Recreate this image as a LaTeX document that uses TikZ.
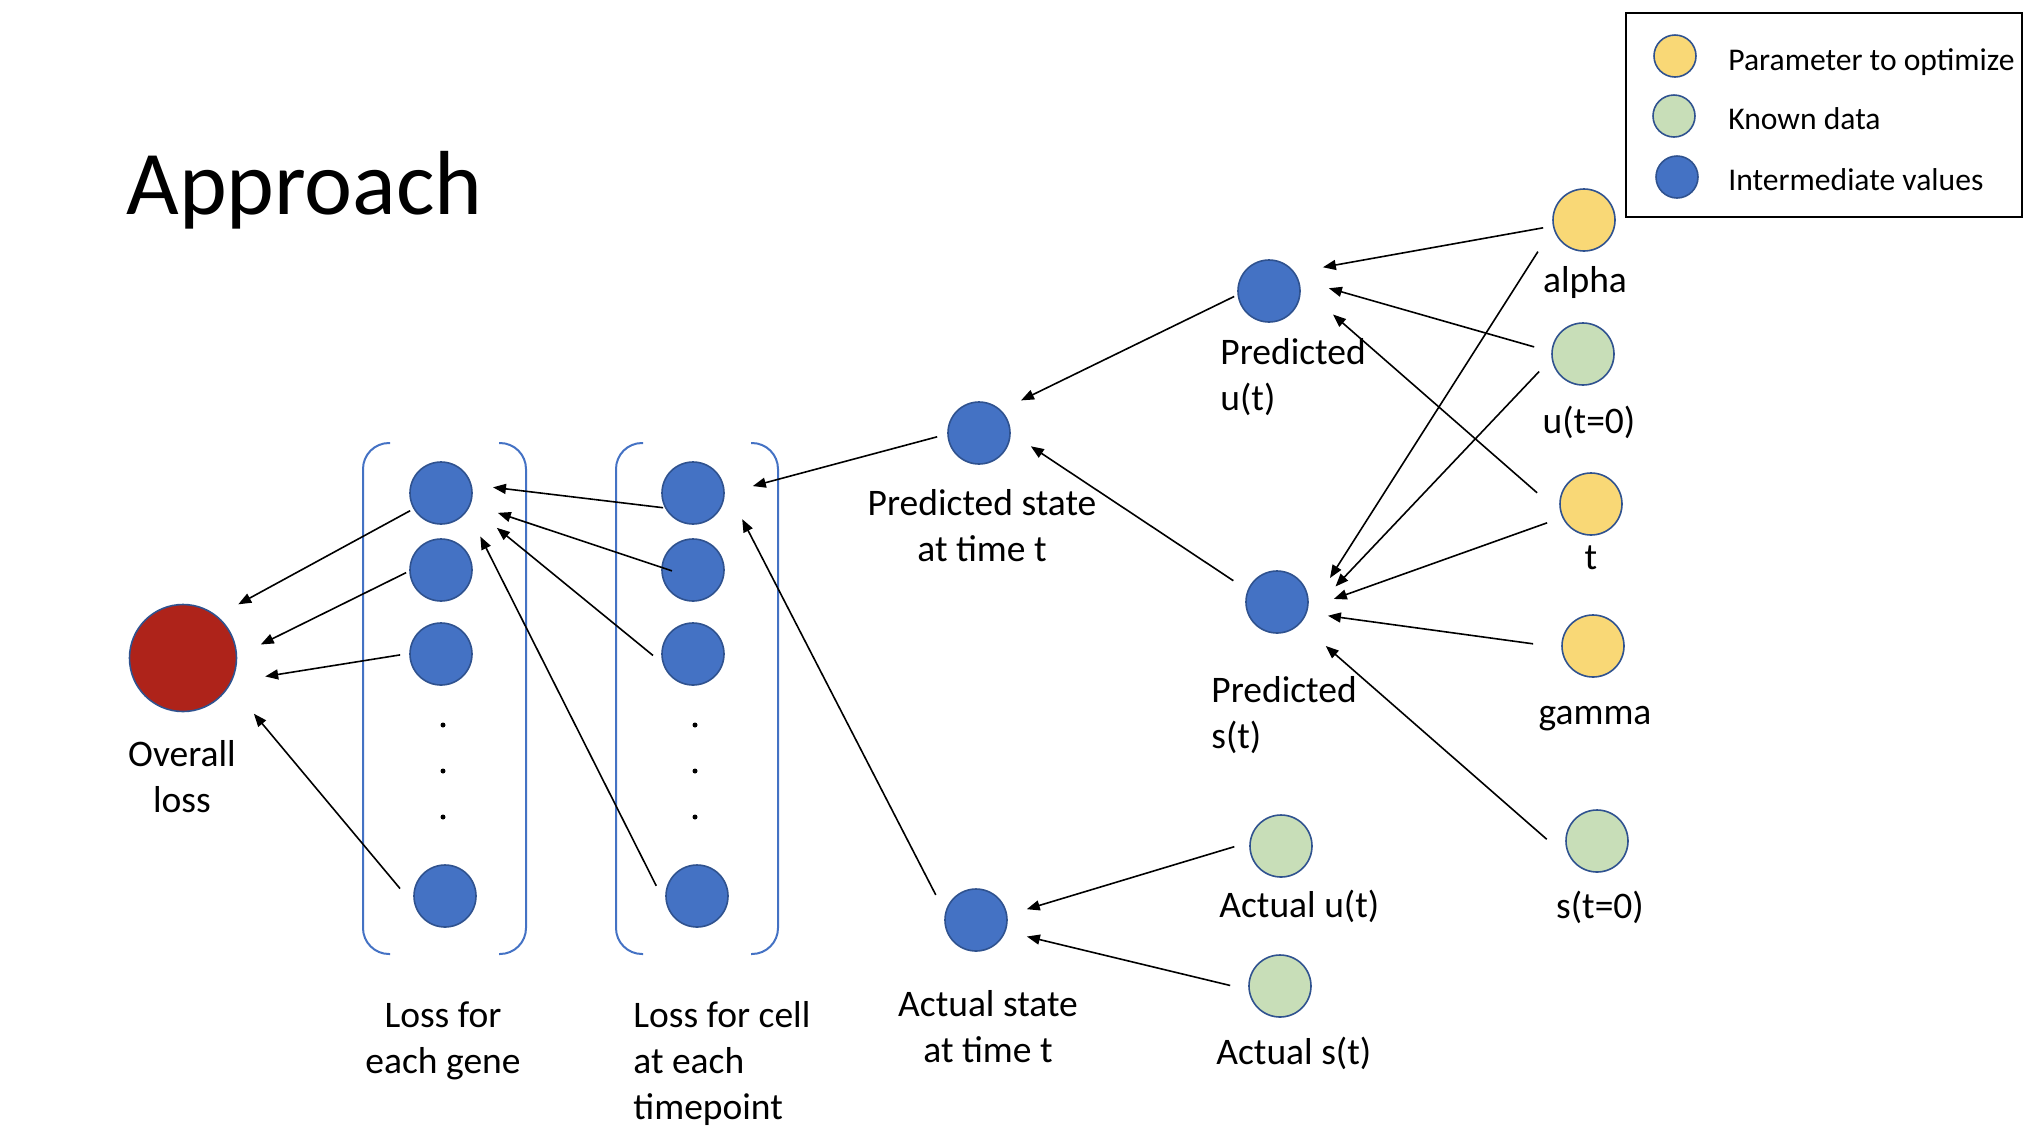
\documentclass[tikz,border=0pt]{standalone}
\usepackage{fontspec}
\setmainfont{Carlito}
\usetikzlibrary{arrows.meta}
\definecolor{interblue}{RGB}{68,114,196}
\definecolor{rimblue}{RGB}{47,82,143}
\definecolor{paramyellow}{RGB}{249,216,118}
\definecolor{datagreen}{RGB}{200,222,184}
\definecolor{lossred}{RGB}{174,35,26}

\begin{document}
\begin{tikzpicture}[x=0.5pt,y=-0.5pt,
    ball/.style={circle,draw=rimblue,line width=0.8pt,inner sep=0pt,minimum size=31pt},
    inter/.style={ball,fill=interblue},
    param/.style={ball,fill=paramyellow},
    known/.style={ball,fill=datagreen},
    keyball/.style={circle,draw=rimblue,line width=0.8pt,inner sep=0pt,minimum size=21pt},
    lab/.style={font=\fontsize{18.75pt}{23pt}\selectfont,inner sep=0pt},
    keytext/.style={font=\fontsize{15.8pt}{18pt}\selectfont,inner sep=0pt,anchor=base west},
    arrow/.style={-{Triangle[length=6.5pt,width=5pt]},line width=0.8pt},
    bracket/.style={draw=interblue,line width=1pt,rounded corners=13pt}]
  \useasboundingbox (0,0) rectangle (2036,1142);

  \node[font=\fontsize{45.5pt}{54pt}\selectfont,anchor=base west,inner sep=0pt] (title) at (126,214) {Approach};

  % legend
  \draw[line width=1pt] (1626,13) rectangle (2022,217);
  \node[keyball,fill=paramyellow] (keyparam) at (1675,56) {};
  \node[keyball,fill=datagreen] (keyknown) at (1674,116) {};
  \node[keyball,fill=interblue] (keyinter) at (1677,177) {};
  \node[keytext] (keyparamtxt) at (1728,70) {Parameter to optimize};
  \node[keytext] (keyknowntxt) at (1728,129) {Known data};
  \node[keytext] (keyintertxt) at (1728,190) {Intermediate values};

  % loss columns
  \node[circle,draw=rimblue,line width=0.8pt,fill=lossred,inner sep=0pt,minimum size=53.5pt] (loss) at (183,658) {};
  \foreach \n/\y in {1/493,2/570,3/654} {
    \node[inter] (g\n) at (441,\y) {};
    \node[inter] (c\n) at (693,\y) {};
  }
  \node[inter] (gN) at (445,896) {};
  \node[inter] (cN) at (697,896) {};
  \foreach \y in {725,771,817} {
    \fill (443,\y) circle (1.25pt);
    \fill (695,\y) circle (1.25pt);
  }
  \foreach \l/\r in {363/526,616/778} {
    \draw[bracket] (\l+27,443) -- (\l,443) -- (\l,954) -- (\l+27,954);
    \draw[bracket] (\r-27,443) -- (\r,443) -- (\r,954) -- (\r-27,954);
  }

  % states
  \node[inter] (predstate) at (979,433) {};
  \node[inter] (actstate) at (976,920) {};
  \node[inter] (predu) at (1269,291) {};
  \node[inter] (preds) at (1277,602) {};
  \node[known] (actu) at (1281,846) {};
  \node[known] (acts) at (1280,986) {};

  % inputs
  \node[param] (alpha) at (1584,220) {};
  \node[known] (uzero) at (1583,354) {};
  \node[param] (time) at (1591,504) {};
  \node[param] (gamma) at (1593,646) {};
  \node[known] (szero) at (1597,841) {};

  % labels (base = last line)
  \node[lab,align=center,anchor=base] (losslab) at (182,812) {Overall\\loss};
  \node[lab,align=center,anchor=base] (genelab) at (443,1073) {Loss for\\each gene};
  \node[lab,align=left,anchor=base west] (celllab) at (633,1119) {Loss for cell\\at each\\timepoint};
  \node[lab,align=center,anchor=base] (predstatelab) at (982,561) {Predicted state\\at time t};
  \node[lab,align=center,anchor=base] (actstatelab) at (988,1062) {Actual state\\at time t};
  \node[lab,align=left,anchor=base west] (predulab) at (1220,410) {Predicted\\u(t)};
  \node[lab,align=left,anchor=base west] (predslab) at (1211,748) {Predicted\\s(t)};
  \node[lab,anchor=base west] (actulab) at (1219,917) {Actual u(t)};
  \node[lab,anchor=base west] (actslab) at (1216,1064) {Actual s(t)};
  \node[lab,anchor=base] (alphalab) at (1585,292) {alpha};
  \node[lab,anchor=base] (uzerolab) at (1589,433) {u(t=0)};
  \node[lab,anchor=base] (timelab) at (1591,569) {t};
  \node[lab,anchor=base] (gammalab) at (1595,724) {gamma};
  \node[lab,anchor=base] (szerolab) at (1600,918) {s(t=0)};

  % connectors: source/anchor/gap/target/anchor/gap
  \foreach \a/\sa/\gs/\b/\ta/\gt in {
      g1/210.4/1.9/loss/51.5/12, g2/182.7/1.7/loss/2.6/13.1,
      g3/179.1/4.6/loss/-26.6/16.9, gN/199.8/11.6/loss/-30.2/18.6,
      c1/208.4/0.9/g1/15.9/10.7, c2/-32.2/25.3/g1/-20.1/14.2,
      c3/197.9/6.2/g1/-24/17.3, cN/206.7/13.5/g1/-34.5/14.4,
      predstate/182.3/5.2/c1/-1.1/14.5, actstate/167.9/10.1/c1/27/22.8,
      predu/187.9/1.8/predstate/46.7/11.1, preds/158.9/8.5/predstate/0.7/12,
      actu/173.6/7.9/actstate/9.3/10.1, acts/187.9/9.4/actstate/-21.8/10.9,
      alpha/191.3/4.9/predu/36.4/14.3, uzero/176.3/8.9/predu/21.4/15.7,
      time/197.4/15.6/predu/9.9/21.6, alpha/194.4/14.2/preds/-32/24.2,
      uzero/188.6/9/preds/-43.1/25.6, time/205.2/8/preds/-11/13.6,
      gamma/183.3/14.2/preds/-20.4/10.6, szero/227.3/19/preds/-43.7/16.9}
    \draw[arrow,shorten <=\gs pt,shorten >=\gt pt] (\a.\sa) -- (\b.\ta);
\end{tikzpicture}
\end{document}
